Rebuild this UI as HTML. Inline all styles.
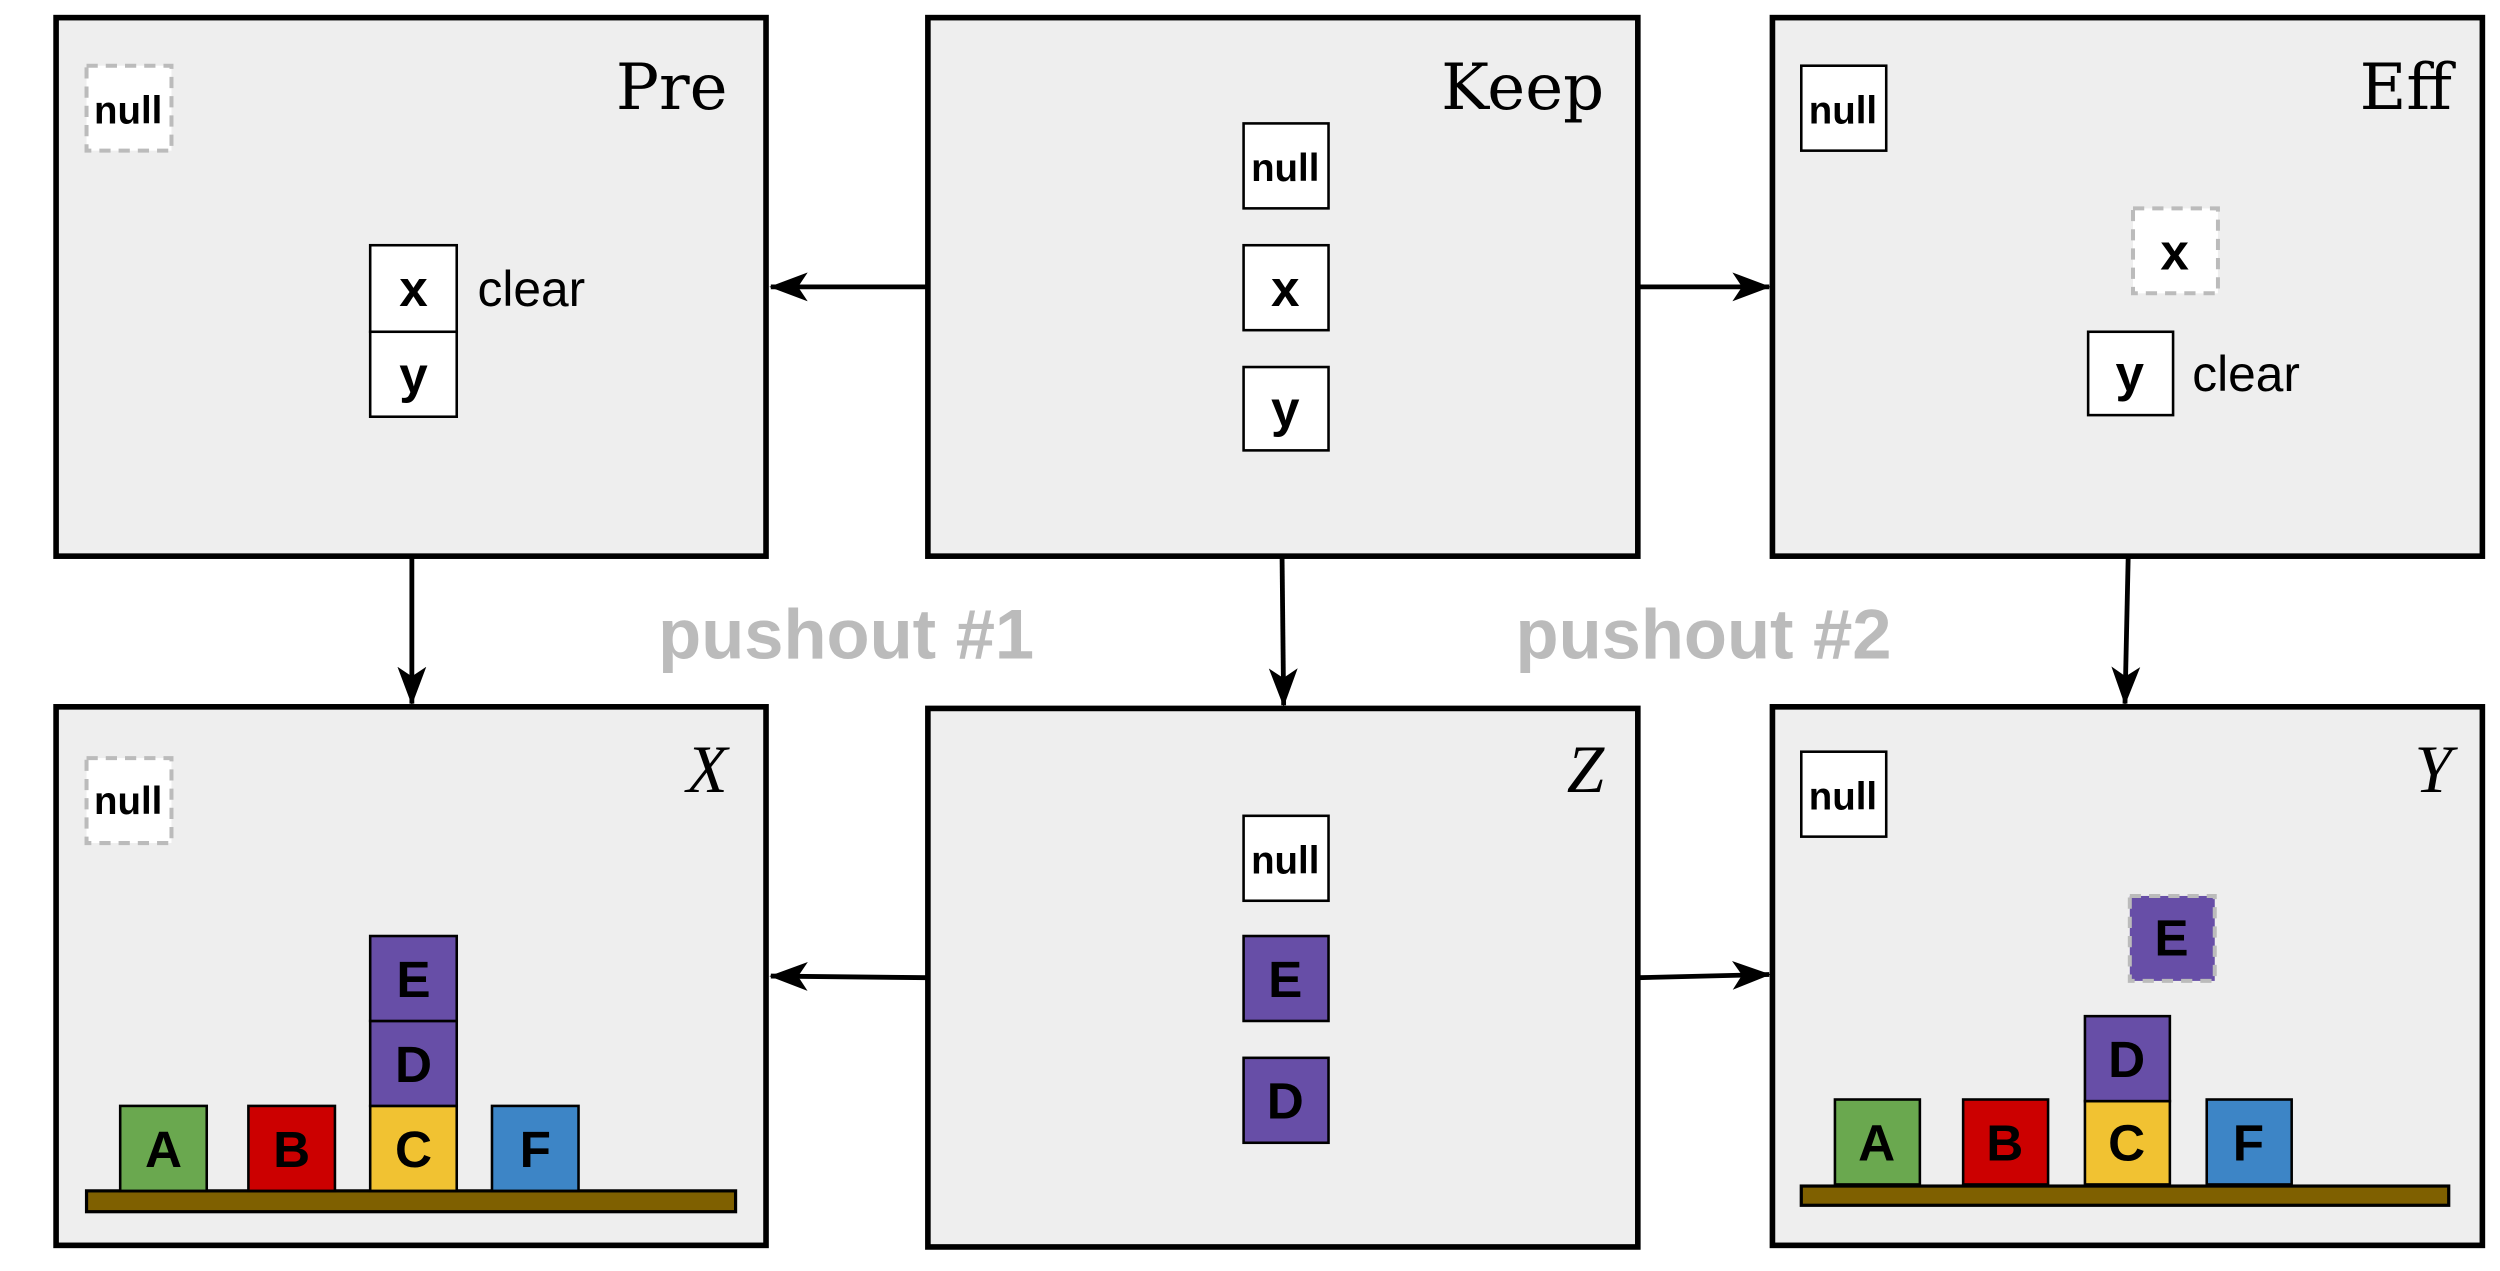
<!DOCTYPE html>
<html><head><meta charset="utf-8"><style>
html,body{margin:0;padding:0;background:#fff;}
svg{display:block;}
.bx{fill:#eeeeee;stroke:#000;stroke-width:3.5;}
.cell{stroke:#000;stroke-width:1.6;}
.dash{stroke:#bbbbbb;stroke-width:2.5;stroke-dasharray:7,5;}
.lbl{font-family:"Liberation Sans",sans-serif;font-weight:bold;font-size:32px;text-anchor:middle;}
.nul{font-family:"Liberation Sans",sans-serif;font-weight:bold;font-size:24px;text-anchor:middle;}
.clr{font-family:"Liberation Sans",sans-serif;font-size:31px;}
.ttl{font-family:"DejaVu Serif","Liberation Serif",serif;font-size:40px;text-anchor:end;}
.it{font-family:"Liberation Serif",serif;font-style:italic;font-size:42px;text-anchor:end;}
.po{font-family:"Liberation Sans",sans-serif;font-weight:bold;font-size:44px;fill:#bbbbbb;text-anchor:middle;}
.ar{stroke:#000;stroke-width:3;fill:none;}
.shelf{fill:#7f6000;stroke:#000;stroke-width:2;}
</style></head><body>
<svg width="2500" height="1271" viewBox="0 0 1560 793" preserveAspectRatio="none">
<defs>
<marker id="ah2" viewBox="0 0 24 24" refX="23" refY="12" markerWidth="24" markerHeight="24" orient="auto" markerUnits="userSpaceOnUse"><path d="M0,3 L24,12 L0,21 L6,12 Z" fill="#000"/></marker></defs>

<g>
<line class="ar" x1="579" y1="179" x2="481" y2="179" marker-end="url(#ah2)"/>
<line class="ar" x1="1022" y1="179" x2="1104" y2="179" marker-end="url(#ah2)"/>
<line class="ar" x1="257" y1="347" x2="257" y2="439" marker-end="url(#ah2)"/>
<line class="ar" x1="800" y1="347" x2="801" y2="440" marker-end="url(#ah2)"/>
<line class="ar" x1="1328" y1="347" x2="1326" y2="439" marker-end="url(#ah2)"/>
<line class="ar" x1="579" y1="610" x2="481" y2="609" marker-end="url(#ah2)"/>
<line class="ar" x1="1022" y1="610" x2="1104" y2="608" marker-end="url(#ah2)"/>
</g>
<text class="po" x="528" y="411">pushout #1</text>
<text class="po" x="1063" y="411">pushout #2</text>

<g>
<rect class="bx" x="35" y="11" width="443" height="336"/>
<text class="ttl" x="454" y="68">Pre</text>
<rect x="54" y="41" width="53" height="53" fill="#fff" class="dash"/>
<text class="nul" x="80" y="77">null</text>
<rect class="cell" fill="#fff" x="231" y="153" width="54" height="54"/>
<text class="lbl" x="258" y="191">x</text>
<rect class="cell" fill="#fff" x="231" y="207" width="54" height="53"/>
<text class="lbl" x="258" y="245">y</text>
<text class="clr" x="298" y="191">clear</text>
</g>

<g>
<rect class="bx" x="579" y="11" width="443" height="336"/>
<text class="ttl" x="1001" y="68">Keep</text>
<rect class="cell" fill="#fff" x="776" y="77" width="53" height="53"/>
<text class="nul" x="802" y="113">null</text>
<rect class="cell" fill="#fff" x="776" y="153" width="53" height="53"/>
<text class="lbl" x="802" y="191">x</text>
<rect class="cell" fill="#fff" x="776" y="229" width="53" height="52"/>
<text class="lbl" x="802" y="266">y</text>
</g>

<g>
<rect class="bx" x="1106" y="11" width="443" height="336"/>
<text class="ttl" x="1530" y="68">Eff</text>
<rect class="cell" fill="#fff" x="1124" y="41" width="53" height="53"/>
<text class="nul" x="1150" y="77">null</text>
<rect x="1331" y="130" width="53" height="53" fill="#fff" class="dash"/>
<text class="lbl" x="1357" y="168">x</text>
<rect class="cell" fill="#fff" x="1303" y="207" width="53" height="52"/>
<text class="lbl" x="1329" y="244">y</text>
<text class="clr" x="1368" y="244">clear</text>
</g>

<g>
<rect class="bx" x="35" y="441" width="443" height="336"/>
<text class="it" x="454" y="494">X</text>
<rect x="54" y="473" width="53" height="53" fill="#fff" class="dash"/>
<text class="nul" x="80" y="508">null</text>
<rect class="shelf" x="54" y="743" width="405" height="13"/>
<rect class="cell" fill="#6aa84f" x="75" y="690" width="54" height="53"/><text class="lbl" x="102" y="728">A</text>
<rect class="cell" fill="#cc0000" x="155" y="690" width="54" height="53"/><text class="lbl" x="182" y="728">B</text>
<rect class="cell" fill="#f1c232" x="231" y="690" width="54" height="53"/><text class="lbl" x="258" y="728">C</text>
<rect class="cell" fill="#674ea7" x="231" y="637" width="54" height="53"/><text class="lbl" x="258" y="675">D</text>
<rect class="cell" fill="#674ea7" x="231" y="584" width="54" height="53"/><text class="lbl" x="258" y="622">E</text>
<rect class="cell" fill="#3d85c6" x="307" y="690" width="54" height="53"/><text class="lbl" x="334" y="728">F</text>
</g>

<g>
<rect class="bx" x="579" y="442" width="443" height="336"/>
<text class="it" x="1001" y="494">Z</text>
<rect class="cell" fill="#fff" x="776" y="509" width="53" height="53"/>
<text class="nul" x="802" y="545">null</text>
<rect class="cell" fill="#674ea7" x="776" y="584" width="53" height="53"/><text class="lbl" x="802" y="622">E</text>
<rect class="cell" fill="#674ea7" x="776" y="660" width="53" height="53"/><text class="lbl" x="802" y="698">D</text>
</g>

<g>
<rect class="bx" x="1106" y="441" width="443" height="336"/>
<text class="it" x="1530" y="494">Y</text>
<rect class="cell" fill="#fff" x="1124" y="469" width="53" height="53"/>
<text class="nul" x="1150" y="505">null</text>
<rect x="1329" y="559" width="53" height="53" fill="#674ea7" class="dash"/><text class="lbl" x="1355" y="596">E</text>
<rect class="shelf" x="1124" y="740" width="404" height="12"/>
<rect class="cell" fill="#6aa84f" x="1145" y="686" width="53" height="53"/><text class="lbl" x="1171" y="724">A</text>
<rect class="cell" fill="#cc0000" x="1225" y="686" width="53" height="53"/><text class="lbl" x="1251" y="724">B</text>
<rect class="cell" fill="#f1c232" x="1301" y="687" width="53" height="52"/><text class="lbl" x="1327" y="724">C</text>
<rect class="cell" fill="#674ea7" x="1301" y="634" width="53" height="53"/><text class="lbl" x="1327" y="672">D</text>
<rect class="cell" fill="#3d85c6" x="1377" y="686" width="53" height="53"/><text class="lbl" x="1403" y="724">F</text>
</g>
</svg>
</body></html>
